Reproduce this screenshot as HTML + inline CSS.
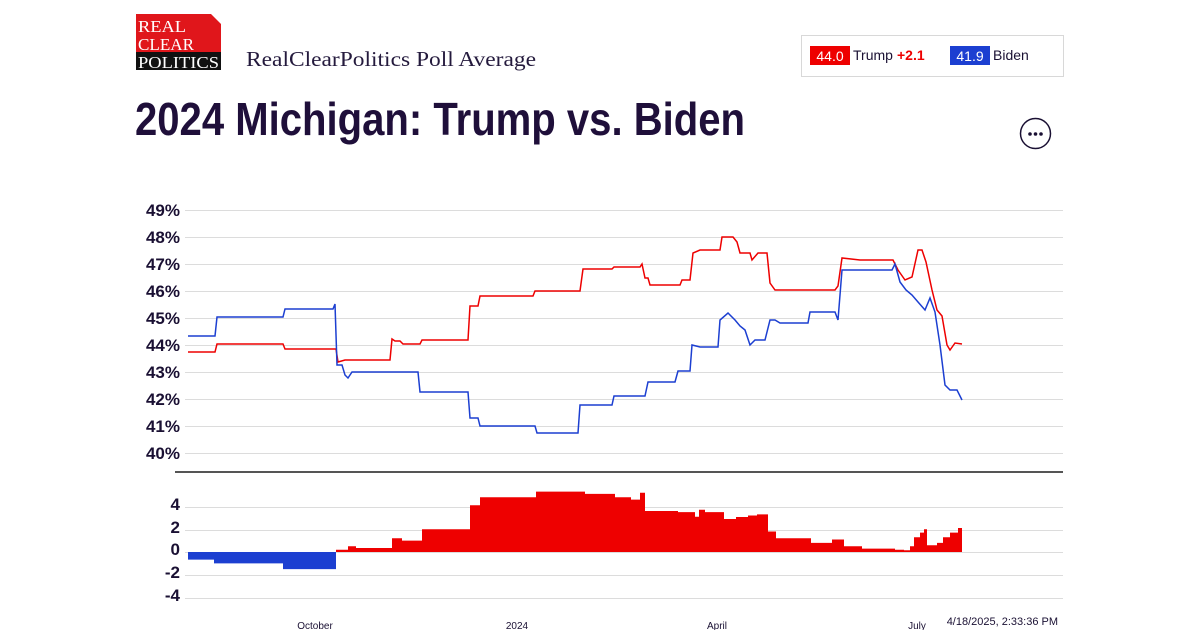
<!DOCTYPE html>
<html><head><meta charset="utf-8"><style>
html,body{margin:0;padding:0;background:#fff;}
svg{display:block;font-family:"Liberation Sans",Arial,sans-serif;}
</style></head><body>
<svg width="1200" height="630" viewBox="0 0 1200 630" xmlns="http://www.w3.org/2000/svg">
<!-- logo -->
<path d="M136,14 H211 L221,24 V70 H136 Z" fill="#e0161b"/>
<rect x="136" y="52" width="85" height="18" fill="#111"/>
<g font-family="Liberation Serif,serif" fill="#fff" font-size="17">
<text x="138" y="32" textLength="48" lengthAdjust="spacingAndGlyphs">REAL</text>
<text x="138" y="50" textLength="56" lengthAdjust="spacingAndGlyphs">CLEAR</text>
<text x="138" y="68" textLength="81" lengthAdjust="spacingAndGlyphs">POLITICS</text>
</g>
<text x="246" y="66" font-family="Liberation Serif,serif" font-size="21" fill="#241a3d" textLength="290" lengthAdjust="spacingAndGlyphs">RealClearPolitics Poll Average</text>
<text x="135" y="135" font-size="46" font-weight="bold" fill="#1f0f3a" textLength="610" lengthAdjust="spacingAndGlyphs">2024 Michigan: Trump vs. Biden</text>
<!-- legend -->
<rect x="801.5" y="35.5" width="262" height="41" fill="#fff" stroke="#d8d8d8"/>
<rect x="810" y="46" width="40" height="19" fill="#e00" />
<text x="830" y="61" font-size="14" fill="#fff" text-anchor="middle">44.0</text>
<text x="853" y="60" font-size="14" fill="#1a1033">Trump</text>
<text x="897" y="60" font-size="14" font-weight="bold" fill="#e00">+2.1</text>
<rect x="950" y="46" width="40" height="19" fill="#1c3fd1"/>
<text x="970" y="61" font-size="14" fill="#fff" text-anchor="middle">41.9</text>
<text x="993" y="60" font-size="14" fill="#1a1033">Biden</text>
<circle cx="1035.5" cy="133.5" r="15" fill="#fff" stroke="#1a1033" stroke-width="1.5"/>
<g fill="#1a1033"><circle cx="1030" cy="134" r="1.8"/><circle cx="1035.5" cy="134" r="1.8"/><circle cx="1041" cy="134" r="1.8"/></g>
<!-- grid main -->
<g stroke="#dcdcdc" stroke-width="1">
<line x1="185" y1="210.5" x2="1063" y2="210.5"/><line x1="185" y1="237.5" x2="1063" y2="237.5"/>
<line x1="185" y1="264.5" x2="1063" y2="264.5"/><line x1="185" y1="291.5" x2="1063" y2="291.5"/>
<line x1="185" y1="318.5" x2="1063" y2="318.5"/><line x1="185" y1="345.5" x2="1063" y2="345.5"/>
<line x1="185" y1="372.5" x2="1063" y2="372.5"/><line x1="185" y1="399.5" x2="1063" y2="399.5"/>
<line x1="185" y1="426.5" x2="1063" y2="426.5"/><line x1="185" y1="453.5" x2="1063" y2="453.5"/>
<line x1="185" y1="507.5" x2="1063" y2="507.5"/><line x1="185" y1="530.5" x2="1063" y2="530.5"/>
<line x1="185" y1="552.5" x2="1063" y2="552.5"/><line x1="185" y1="575.5" x2="1063" y2="575.5"/>
<line x1="185" y1="598.5" x2="1063" y2="598.5"/>
</g>
<line x1="175" y1="472" x2="1063" y2="472" stroke="#555" stroke-width="2"/>
<g font-size="17" font-weight="bold" fill="#1a1033" text-anchor="end">
<text x="180" y="216">49%</text><text x="180" y="243">48%</text><text x="180" y="270">47%</text>
<text x="180" y="297">46%</text><text x="180" y="324">45%</text><text x="180" y="351">44%</text>
<text x="180" y="378">43%</text><text x="180" y="405">42%</text><text x="180" y="432">41%</text>
<text x="180" y="459">40%</text>
<text x="180" y="510">4</text><text x="180" y="533">2</text><text x="180" y="555">0</text>
<text x="180" y="578">-2</text><text x="180" y="601">-4</text>
</g>
<!-- lines -->
<polyline fill="none" stroke="#e00" stroke-width="1.5" points="188,352 215,352 217,344 283,344 285,349 336,349 338,362 345,360 390,360 392,339 395,341 400,341 403,344 420,344 422,340 468,340 470,306 478,306 480,296 533,296 535,291 580,291 583,269 612,269 614,267 640,267 642,264 645,278 648,278 650,285 680,285 682,280 690,280 693,253 700,250 720,250 722,237 733,237 737,242 740,253 750,253 752,260 758,253 767,253 770,283 775,290 835,290 838,286 842,258 860,260 893,260 898,270 905,280 912,277 918,250 922,250 926,262 932,290 937,310 942,316 947,345 950,350 955,343 962,344"/>
<polyline fill="none" stroke="#1c3fd1" stroke-width="1.5" points="188,336 215,336 217,317 283,317 285,309 333,309 335,304 337,365 342,365 345,375 348,378 352,372 418,372 420,392 468,392 470,418 478,418 480,426 535,426 537,433 578,433 580,405 612,405 614,396 645,396 648,382 675,382 678,371 690,371 692,345 700,347 718,347 720,320 728,313 735,320 740,326 745,330 750,345 755,340 765,340 770,320 775,320 780,323 808,323 810,312 835,312 838,320 842,270 892,270 895,264 900,282 906,290 912,295 918,302 925,310 930,298 935,312 940,345 945,385 950,390 957,390 962,400"/>
<!-- margin bars -->
<path fill="#1c3fd1" d="M188,552 V559.6 H214 V563.4 H283 V569.1 H336 V552 Z"/>
<path fill="#e00" d="M336,552 V549.7 H348 V546.3 H356 V548 H392 V538.3 H402 V540.6 H422 V529.2 H470 V505.3 H480 V497.3 H536 V491.6 H585 V493.9 H615 V497.3 H631 V499.6 H640 V492.7 H645 V511 H678 V512.1 H695 V516.7 H699 V509.8 H705 V512.1 H724 V519 H736 V517 H748 V515.5 H757 V514.4 H768 V531.5 H776 V538.3 H811 V542.9 H832 V539.5 H844 V546.3 H862 V548.6 H895 V549.7 H904 V550.3 H910 V546.3 H914 V537.2 H920 V532.6 H924 V529.2 H927 V545.2 H937 V542.9 H943 V537.2 H950 V532.6 H958 V528 H962 V552 Z"/>
<g font-size="10" fill="#1a1033" text-anchor="middle">
<text x="315" y="629">October</text><text x="517" y="629">2024</text>
<text x="717" y="629">April</text><text x="917" y="629">July</text>
</g>
<text x="1058" y="625" font-size="11" fill="#1a1033" text-anchor="end">4/18/2025, 2:33:36 PM</text>
</svg>
</body></html>
